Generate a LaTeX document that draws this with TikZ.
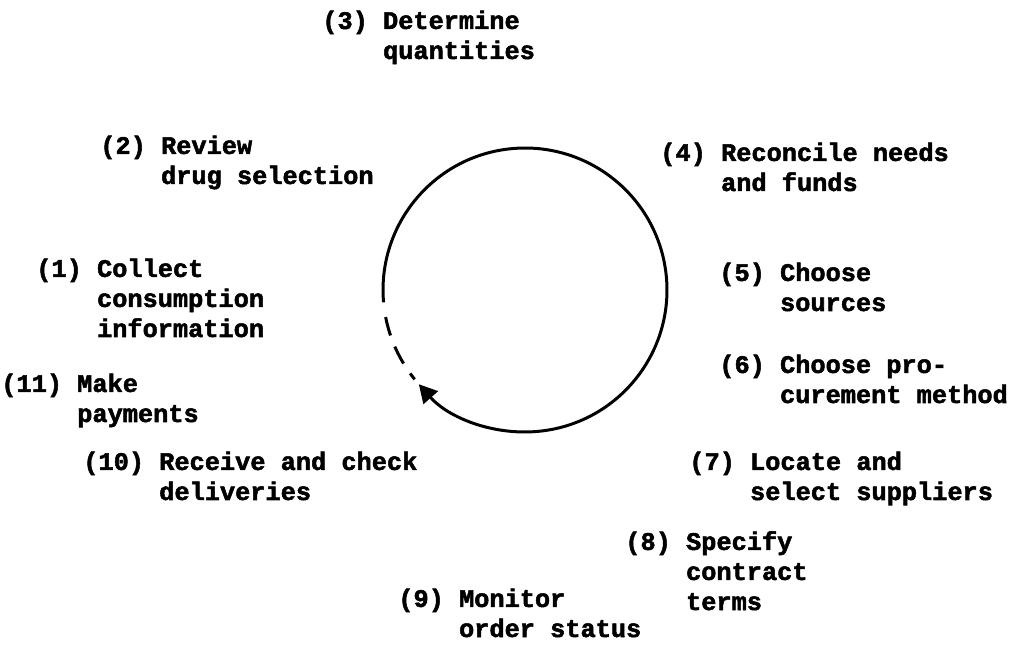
\documentclass[tikz,border=0pt]{standalone}
\usepackage{fontspec}
\setmonofont{Liberation Mono}[BoldFeatures={FakeBold=2}]
\usepackage{tikz}
\usetikzlibrary{arrows.meta,positioning}

\begin{document}
\begin{tikzpicture}[
    x=0.02cm, y=0.02cm,
    stagetext/.style={anchor=base west, align=left, inner sep=0pt, font=\ttfamily\bfseries\fontsize{14.4}{17.1}\selectfont},
    cycleline/.style={line width=1.7pt},
    cyclearrow/.style={cycleline, -{Triangle[length=0.36cm, width=0.38cm]}}
]
    \useasboundingbox (0,0) rectangle (1021,656);
    \coordinate (hub) at (525,366);

    % nodes sit on the baseline of their last line
    \node[stagetext] (quantities) at (322,597) {(3) Determine\\\hphantom{(3) }quantities};
    \node[stagetext] (review) at (100,472) {(2) Review\\\hphantom{(2) }drug selection};
    \node[stagetext] (reconcile) at (660,465) {(4) Reconcile needs\\\hphantom{(4) }and funds};
    \node[stagetext] (collect) at (36,319) {(1) Collect\\\hphantom{(1) }consumption\\\hphantom{(1) }information};
    \node[stagetext] (sources) at (719,345) {(5) Choose\\\hphantom{(5) }sources};
    \node[stagetext] (method) at (719,253) {(6) Choose pro-\\\hphantom{(6) }curement method};
    \node[stagetext] (payments) at (1,234) {(11) Make\\\hphantom{(11) }payments};
    \node[stagetext] (suppliers) at (689,156) {(7) Locate and\\\hphantom{(7) }select suppliers};
    \node[stagetext] (receive) at (83,156) {(10) Receive and check\\\hphantom{(10) }deliveries};
    \node[stagetext] (terms) at (625,46) {(8) Specify\\\hphantom{(8) }contract\\\hphantom{(8) }terms};
    \node[stagetext] (monitor) at (398,19) {(9) Monitor\\\hphantom{(9) }order status};

    % cycle: solid arc with tip, dashed gap before step 1
    \draw[cyclearrow] ([shift={(185:2.84cm)}]hub) arc[start angle=185, end angle=-138.4, radius=2.84cm];
    \draw[cycleline, dash pattern=on 0.38cm off 0.24cm] ([shift={(191:2.84cm)}]hub) arc[start angle=191, end angle=219, radius=2.84cm];
\end{tikzpicture}
\end{document}
